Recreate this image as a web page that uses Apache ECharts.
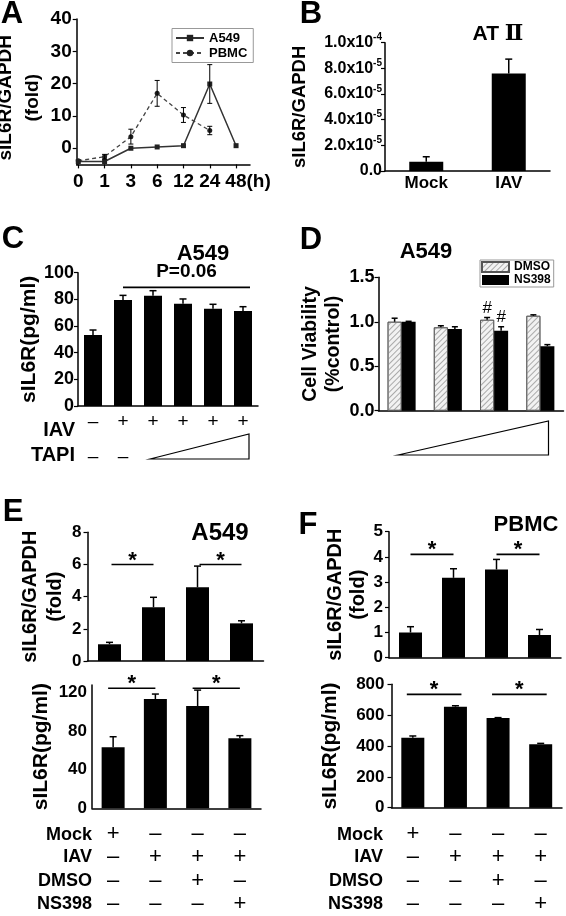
<!DOCTYPE html>
<html><head><meta charset="utf-8">
<script src="https://cdn.jsdelivr.net/npm/echarts@6.0.0/dist/echarts.min.js"></script>
<style>html,body{margin:0;padding:0;background:#fff}#c{width:566px;height:916px}</style>
</head><body><div id="c"></div>
<script>
// ---------------- data ----------------
// Panel A
const aHours = ['0','1','3','6','12','24','48'];
const aA549 = [-4.1,-4.1,0.0,0.4,0.8,19.9,0.8];
const aA549Err = [0,0,0,0,0,6.0,0];
const aPBMC = [-3.9,-2.6,3.6,17.0,10.3,5.5];
const aPBMCErr = [0,0.7,2.3,4.0,2.3,1.3];
const aYTicks = [0,10,20,30,40];
// Panel B
const bCats = ['Mock','IAV'];
const bVals = [0.72e-5, 7.6e-5];
const bErr = [0.39e-5, 1.12e-5];
// Panel C
const cCats = ['1','2','3','4','5','6'];
const cVals = [53.3,79.5,82.8,76.8,73.0,71.3];
const cErr = [3.7,3.5,3.7,3.5,3.3,3.2];
const cIAV = ['–','+','+','+','+','+'];
const cTAPI = ['–','–','','','',''];
const cSig = [[1,5,89]];
const cSigText = ['P=0.06'];
// Panel D
const dCats = ['1','2','3','4'];
const dDMSO = [1.00,0.937,1.022,1.067];
const dDMSOErr = [0.04,0.018,0.026,0.011];
const dNS = [1.00,0.918,0.90,0.725];
const dNSErr = [0.005,0.026,0.044,0.018];
const dDMSOMark = ['','','#',''];
const dNSMark = ['','','#',''];
// Panels E / F
const efCats = ['1','2','3','4'];
const eFold = [1.04,3.34,4.58,2.34];
const eFoldErr = [0.12,0.62,1.32,0.16];
const ePg = [63.3,113.4,106.1,72.6];
const ePgErr = [11.0,5.2,16.6,2.8];
const fFold = [1.00,3.17,3.50,0.90];
const fFoldErr = [0.23,0.36,0.40,0.22];
const fPg = [453,655,582,412];
const fPgErr = [12,6,2,5];
const eFoldSig = [[0,1,6.0],[2,3,6.0]];
const ePgSig = [[0,1,124.6],[2,3,124.6]];
const fFoldSig = [[0,1,4.1],[2,3,4.1]];
const fPgSig = [[0,1,735],[2,3,735]];
const starText = ['*','*'];
const rowNames = ['Mock','IAV','DMSO','NS398'];
const rowMock = ['+','–','–','–'];
const rowIAV = ['–','+','+','+'];
const rowDMSO = ['–','–','+','–'];
const rowNS398 = ['–','–','–','+'];

// ---------------- helpers ----------------
const FF = '"Liberation Sans", Arial, Helvetica, sans-serif';
const AX = {onZero:false, lineStyle:{color:'#000', width:1.5}};
const TK = {length:4, lineStyle:{color:'#000', width:1.2}};
const bold = (s) => ({fontFamily:FF, fontWeight:'bold', fontSize:s, color:'#000'});

function errSeries(gi, vals, errs, o) {
  o = o || {};
  return {
    type:'custom', xAxisIndex:gi, yAxisIndex:gi, z:5, silent:true,
    data: vals.map((v,i)=>[i, v, errs[i]]),
    encode:{x:0, y:1},
    renderItem(params, api) {
      const i = api.value(0), v = api.value(1), e = api.value(2);
      const base = api.coord([i, v]);
      const top = api.coord([i, v + e]);
      const x = base[0] + (o.dx || 0);
      const cw = o.cap || 7, lw = o.lw || 1.5;
      const st = {stroke:'#000', lineWidth:lw};
      const ch = [];
      if (e > 0) {
        ch.push({type:'line', shape:{x1:x, y1:base[1], x2:x, y2:top[1]}, style:st});
        ch.push({type:'line', shape:{x1:x-cw/2, y1:top[1], x2:x+cw/2, y2:top[1]}, style:st});
        if (o.both) {
          const bot = api.coord([i, v - e]);
          ch.push({type:'line', shape:{x1:x, y1:base[1], x2:x, y2:bot[1]}, style:st});
          ch.push({type:'line', shape:{x1:x-cw/2, y1:bot[1], x2:x+cw/2, y2:bot[1]}, style:st});
        }
      }
      if (o.marks && o.marks[params.dataIndex]) {
        ch.push({type:'text', x:x, y:top[1]-1, style:{text:o.marks[params.dataIndex], align:'center', verticalAlign:'bottom', font:'normal 17px ' + FF, fill:'#000'}});
      }
      return {type:'group', children:ch};
    }
  };
}
function sigSeries(gi, sig, texts, o) {
  o = o || {};
  return {
    type:'custom', xAxisIndex:gi, yAxisIndex:gi, z:6, silent:true,
    data: sig.map(s => s.slice()),
    encode:{x:[0,1], y:2},
    renderItem(params, api) {
      const p1 = api.coord([api.value(0), api.value(2)]);
      const p2 = api.coord([api.value(1), api.value(2)]);
      const x1 = p1[0] - (o.extL || 0), x2 = p2[0] + (o.extR || 0);
      return {type:'group', children:[
        {type:'line', shape:{x1:x1, y1:p1[1], x2:x2, y2:p1[1]}, style:{stroke:'#000', lineWidth:1.6}},
        {type:'text', x:(x1+x2)/2 + (o.tdx||0), y:p1[1] - (o.tdy||4), style:{text:texts[params.dataIndex], align:'center', verticalAlign:'middle', font:'bold ' + (o.fs||22) + 'px ' + FF, fill:'#000'}}
      ]};
    }
  };
}
function barSeries(gi, vals, w, extra) {
  return Object.assign({type:'bar', xAxisIndex:gi, yAxisIndex:gi, barWidth:w, data:vals.slice(), itemStyle:{color:'#000'}, silent:true}, extra || {});
}
function signLabels(i) {
  return [rowMock[i], rowIAV[i], rowDMSO[i], rowNS398[i]].join('\n');
}
function catAxis(gi, cats, label, tick) {
  return {type:'category', gridIndex:gi, data:cats.slice(), axisLine:AX,
    axisTick: tick ? Object.assign({alignWithLabel:true, interval:0}, TK) : {show:false},
    axisLabel: label ? Object.assign({interval:0}, label) : {show:false}};
}
function valAxis(gi, o) {
  return Object.assign({type:'value', gridIndex:gi, axisLine:{show:true, onZero:false, lineStyle:{color:'#000', width:1.5}},
    axisTick:{show:true, length:4, lineStyle:{color:'#000', width:1.2}}, splitLine:{show:false},
    nameLocation:'middle', nameRotate:90}, o);
}

// ---------------- chart ----------------
const chart = echarts.init(document.getElementById('c'), null, {renderer:'canvas'});

const efSignLabel = (m) => ({fontFamily:FF, fontWeight:'normal', fontSize:22, lineHeight:23.3, color:'#000', margin:m,
  formatter:(v, idx) => signLabels(idx)});

const option = {
  animation:false,
  backgroundColor:'#fff',
  textStyle:{fontFamily:FF},
  grid:[
    {left:76.7, top:19.1, width:173.3, height:145.3, outerBoundsMode:'none'},
    {left:385, top:42.7, width:165, height:128.3, outerBoundsMode:'none'},
    {left:78, top:272.7, width:180, height:133.3, outerBoundsMode:'none'},
    {left:378.5, top:277.3, width:185, height:133.4, outerBoundsMode:'none'},
    {left:87.5, top:532.3, width:176, height:128.7, outerBoundsMode:'none'},
    {left:92, top:685, width:169, height:123.3, outerBoundsMode:'none'},
    {left:389, top:531.7, width:172, height:126, outerBoundsMode:'none'},
    {left:391.5, top:684.3, width:170.5, height:123.4, outerBoundsMode:'none'}
  ],
  legend:[
    {data:['A549','PBMC'], left:172, top:28.5, orient:'vertical', itemWidth:28, itemHeight:8, itemGap:2,
     padding:[3,6,3,3], borderColor:'#999', borderWidth:1, textStyle:bold(13), selectedMode:false},
    {data:[{name:'DMSO', icon:'rect'},{name:'NS398', icon:'rect'}], left:480, top:260, orient:'vertical',
     itemWidth:27, itemHeight:10, itemGap:1, padding:[1,3,1,1], borderColor:'#999', borderWidth:1,
     textStyle:Object.assign(bold(12), {lineHeight:12}), selectedMode:false}
  ],
  xAxis:[
    {type:'value', gridIndex:0, min:-0.06, max:6.53, splitLine:{show:false}, axisLine:AX,
     axisTick:Object.assign({customValues:[0,1,2,3,4,5,6]}, TK),
     axisLabel:Object.assign(bold(19), {margin:8, customValues:[0,1,2,3,4,5,6], showMaxLabel:true,
       formatter:(v) => { const k = Math.round(v); return k === 6 ? '{q|' + aHours[k] + '(h)}' : aHours[k]; },
       rich:{q:Object.assign(bold(19), {padding:[0,0,0,24]})}})},
    catAxis(1, bCats, Object.assign(bold(17), {margin:4}), false),
    catAxis(2, cCats, {fontFamily:FF, color:'#000', margin:6,
      formatter:(v, idx) => cTAPI[idx] ? '{a|' + cIAV[idx] + '}\n{b|' + cTAPI[idx] + '}' : '{a|' + cIAV[idx] + '}',
      rich:{a:{fontFamily:FF, fontSize:19, lineHeight:20, color:'#000'}, b:{fontFamily:FF, fontSize:19, lineHeight:49, color:'#000'}}}, false),
    catAxis(3, dCats, null, false),
    catAxis(4, efCats, null, true),
    catAxis(5, efCats, efSignLabel(14), true),
    catAxis(6, efCats, null, true),
    catAxis(7, efCats, efSignLabel(14.6), true)
  ],
  yAxis:[
    valAxis(0, {min:-5, max:40, axisTick:Object.assign({customValues:aYTicks}, TK),
      axisLabel:Object.assign(bold(19), {margin:5, customValues:aYTicks}),
      name:'sIL6R/GAPDH\n(fold)', nameGap:21, nameTextStyle:Object.assign(bold(19), {lineHeight:27, padding:[0,12,0,0]})}),
    valAxis(1, {min:0, max:1e-4, interval:2e-5,
      axisLabel:{margin:3, formatter:(v) => {
        if (v === 0) return '{m|0.0}';
        const ex = Math.floor(Math.log10(v) + 1e-9);
        const m = v / Math.pow(10, ex);
        return '{m|' + m.toFixed(1) + 'x10}{e|' + ex + '}';
      }, rich:{m:Object.assign(bold(16), {lineHeight:20}), e:Object.assign(bold(10), {verticalAlign:'top', lineHeight:12})}},
      name:'sIL6R/GAPDH', nameGap:75, nameTextStyle:Object.assign(bold(18.5), {lineHeight:21})}),
    valAxis(2, {min:0, max:100, interval:20, axisLabel:Object.assign(bold(18), {margin:4}),
      name:'sIL6R(pg/ml)', nameGap:31, nameTextStyle:Object.assign(bold(21), {lineHeight:21})}),
    valAxis(3, {min:0, max:1.5, interval:0.5, axisLabel:Object.assign(bold(18), {margin:4, formatter:(v)=>v.toFixed(1)}),
      name:'Cell Viability\n(%control)', nameGap:29, nameTextStyle:Object.assign(bold(19.5), {lineHeight:23.3})}),
    valAxis(4, {min:0, max:8, interval:2, axisLabel:Object.assign(bold(17), {margin:6}),
      name:'sIL6R/GAPDH\n(fold)', nameGap:12, nameTextStyle:Object.assign(bold(20), {lineHeight:25})}),
    valAxis(5, {min:0, max:128, axisTick:Object.assign({customValues:[0,40,80,120]}, TK),
      axisLabel:Object.assign(bold(17), {margin:5, customValues:[0,40,80,120]}),
      name:'sIL6R(pg/ml)', nameGap:40, nameTextStyle:Object.assign(bold(21), {lineHeight:21})}),
    valAxis(6, {min:0, max:5, interval:1, axisLabel:Object.assign(bold(17), {margin:6}),
      name:'sIL6R/GAPDH\n(fold)', nameGap:14, nameTextStyle:Object.assign(bold(20), {lineHeight:23})}),
    valAxis(7, {min:0, max:800, interval:200, axisLabel:Object.assign(bold(17), {margin:7}),
      name:'sIL6R(pg/ml)', nameGap:51, nameTextStyle:Object.assign(bold(21), {lineHeight:21})})
  ],
  series:[
    // A
    {type:'line', name:'A549', xAxisIndex:0, yAxisIndex:0, data:aA549.map((v,i)=>[i,v]), symbol:'rect', symbolSize:5,
     lineStyle:{color:'#333', width:1.5}, itemStyle:{color:'#222'}, silent:true},
    {type:'line', name:'PBMC', xAxisIndex:0, yAxisIndex:0, data:aPBMC.map((v,i)=>[i,v]), symbol:'circle', symbolSize:5,
     lineStyle:{color:'#444', width:1.3, type:[4,3]}, itemStyle:{color:'#222'}, silent:true},
    errSeries(0, aA549, aA549Err, {both:true, cap:5, lw:1}),
    errSeries(0, aPBMC, aPBMCErr, {both:true, cap:5, lw:1}),
    // B
    barSeries(1, bVals, 34),
    errSeries(1, bVals, bErr, {cap:7}),
    // C
    barSeries(2, cVals, 18),
    errSeries(2, cVals, cErr, {cap:7}),
    sigSeries(2, cSig, cSigText, {extR:7, tdy:16, fs:19}),
    // D
    barSeries(3, dDMSO, 14, {name:'DMSO', barGap:'0%',
      itemStyle:{color:'#f2f2f2', borderColor:'#555', borderWidth:0.8,
        decal:{symbol:'rect', symbolSize:1, dashArrayX:[1,0], dashArrayY:[1,3], rotation:-Math.PI/4, color:'#aaa'}}}),
    barSeries(3, dNS, 14, {name:'NS398', barGap:'0%'}),
    errSeries(3, dDMSO, dDMSOErr, {dx:-7, cap:6, marks:dDMSOMark}),
    errSeries(3, dNS, dNSErr, {dx:7, cap:6, marks:dNSMark}),
    // E
    barSeries(4, eFold, 23),
    errSeries(4, eFold, eFoldErr, {cap:7}),
    sigSeries(4, eFoldSig, starText, {extL:-2}),
    barSeries(5, ePg, 23),
    errSeries(5, ePg, ePgErr, {cap:7}),
    sigSeries(5, ePgSig, starText, {extL:5}),
    // F
    barSeries(6, fFold, 23),
    errSeries(6, fFold, fFoldErr, {cap:7}),
    sigSeries(6, fFoldSig, starText, {}),
    barSeries(7, fPg, 23),
    errSeries(7, fPg, fPgErr, {cap:7}),
    sigSeries(7, fPgSig, starText, {extL:6, extR:6})
  ],
  graphic:[]
};

// annotation texts / shapes
const G = option.graphic;
function txt(t, x, y, font, align, extra) {
  G.push(Object.assign({type:'text', x:x, y:y, silent:true,
    style:Object.assign({text:t, font:font, fill:'#000', align:align||'center', verticalAlign:'middle'}, extra||{})}));
}
const LET = 'bold 31px ' + FF;
txt('A', 12, 14, LET); txt('B', 311, 14, LET); txt('C', 13, 239, LET);
txt('D', 311, 240, LET); txt('E', 13, 512.5, LET); txt('F', 308, 525, LET);
G.push({type:'text', x:498, y:34, silent:true, style:{text:'{a|AT }{b|Ⅱ}', align:'center', verticalAlign:'middle',
  rich:{a:{font:'bold 21px ' + FF, fill:'#000'}, b:{font:'bold 22px "Liberation Serif", "DejaVu Serif", "Noto Sans CJK SC", serif', fill:'#000'}}}});
txt('A549', 203, 253.5, 'bold 22px ' + FF);
txt('A549', 426, 252, 'bold 22px ' + FF);
txt('A549', 220, 533, 'bold 24px ' + FF);
txt('PBMC', 526, 525, 'bold 22px ' + FF);
txt('IAV', 75, 430, 'bold 20px ' + FF, 'right');
txt('TAPI', 75, 455, 'bold 20px ' + FF, 'right');
const rowY = [835, 857.5, 881, 904.5];
rowNames.forEach((n, k) => { txt(n, 92, rowY[k], 'bold 18px ' + FF, 'right'); txt(n, 383, rowY[k], 'bold 18px ' + FF, 'right'); });
G.push({type:'polygon', silent:true, shape:{points:[[150,459],[249,434],[249,459]]}, style:{fill:'none', stroke:'#000', lineWidth:1.2}});
G.push({type:'polygon', silent:true, shape:{points:[[398,455],[548.5,421],[548.5,455]]}, style:{fill:'none', stroke:'#000', lineWidth:1.2}});

chart.setOption(option);
</script>
</body></html>
